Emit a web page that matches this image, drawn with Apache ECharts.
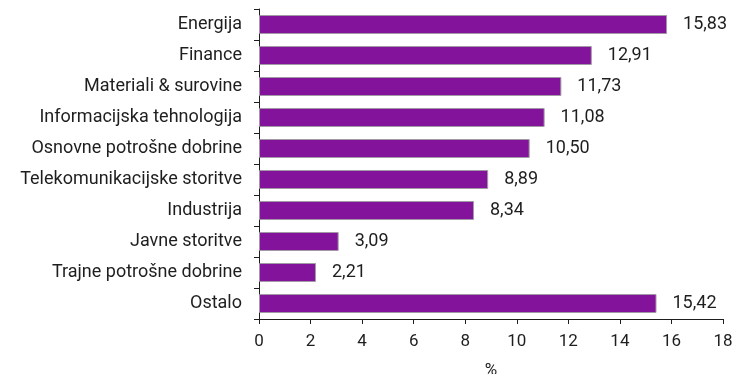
<!DOCTYPE html>
<html>
<head>
<meta charset="utf-8">
<script src="https://cdn.jsdelivr.net/npm/echarts@6/dist/echarts.min.js"></script>
<style>
html,body{margin:0;padding:0;background:#fff;}
#chart{width:733px;height:374px;}
</style>
</head>
<body>
<div id="chart"></div>
<script>
// Sector weights, listed top to bottom
const categories = [
  'Energija',
  'Finance',
  'Materiali & surovine',
  'Informacijska tehnologija',
  'Osnovne potrošne dobrine',
  'Telekomunikacijske storitve',
  'Industrija',
  'Javne storitve',
  'Trajne potrošne dobrine',
  'Ostalo'
];
const values = [15.83, 12.91, 11.73, 11.08, 10.50, 8.89, 8.34, 3.09, 2.21, 15.42];
const xTicks = { min: 0, max: 18, step: 2 };

const font = 'Roboto, "DejaVu Sans", sans-serif';
const ink = '#1e1e1e';
const chart = echarts.init(document.getElementById('chart'), null, { renderer: 'canvas' });
chart.setOption({
  animation: false,
  grid: { left: 259, right: 10, top: 9, bottom: 55, containLabel: false, outerBoundsMode: 'none' },
  xAxis: {
    type: 'value',
    min: xTicks.min, max: xTicks.max, interval: xTicks.step,
    name: '%', nameLocation: 'middle', nameGap: 43,
    nameTextStyle: { color: ink, fontSize: 17, fontFamily: font },
    axisLine: { show: true, lineStyle: { color: ink, width: 1 } },
    axisTick: { show: true, length: 5, lineStyle: { color: ink } },
    axisLabel: { color: ink, fontSize: 17, fontFamily: font, margin: 14 },
    splitLine: { show: false }
  },
  yAxis: {
    type: 'category',
    data: categories,
    inverse: true,
    axisLine: { show: true, lineStyle: { color: ink, width: 1 } },
    axisTick: { show: true, inside: false, length: 5, lineStyle: { color: ink } },
    axisLabel: { color: ink, fontSize: 18, fontFamily: font, margin: 17 }
  },
  series: [{
    type: 'bar',
    data: values,
    barWidth: 19,
    itemStyle: { color: '#83139b', borderColor: '#a399a6', borderWidth: 1 },
    label: {
      show: true, position: 'right', distance: 16,
      color: ink, fontSize: 18, fontFamily: font,
      formatter: p => p.value.toFixed(2).replace('.', ',')
    }
  }]
});
</script>
</body>
</html>
